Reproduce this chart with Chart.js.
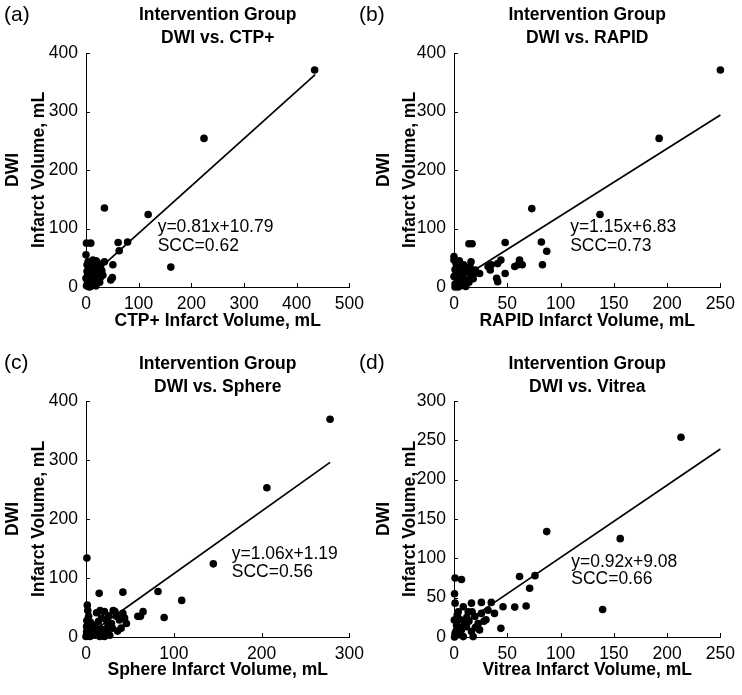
<!DOCTYPE html>
<html>
<head>
<meta charset="utf-8">
<script src="https://cdn.jsdelivr.net/npm/chart.js@4/dist/chart.umd.min.js"></script>
<style>
  body { margin: 0; background: #fff; width: 742px; height: 695px; position: relative; overflow: hidden; }
  canvas { position: absolute; }
</style>
</head>
<body>
<canvas id="ca" width="371" height="347" style="left:0;top:0"></canvas>
<canvas id="cb" width="387" height="347" style="left:355px;top:0"></canvas>
<canvas id="cc" width="371" height="348" style="left:0;top:347px"></canvas>
<canvas id="cd" width="387" height="348" style="left:355px;top:347px"></canvas>
<script>
// (a) DWI vs CTP+
var ctpX = [434, 224, 35, 118, 161, 79, 61, 63, 1, 9, 0, 4, 20, 35, 51, 50, 47, 2, 6, 10, 13, 17, 21, 24, 27, 3, 8, 12, 16, 20, 5, 1, 9, 14, 18, 23, 26, 30, 4, 11, 7, 15, 19, 2, 22, 28, 6, 0, 13, 25, 10, 3, 32, 17, 8];
var ctpY = [371, 254, 135, 124, 34, 77, 76, 62, 75, 75, 55, 43, 44, 43, 38, 16, 12, 38, 30, 42, 28, 35, 22, 30, 16, 20, 14, 8, 4, 10, 5, 2, 1, 18, 45, 40, 8, 28, 12, 22, 36, 12, 2, 27, 18, 38, 0, 15, 46, 24, 32, 8, 20, 26, 24];
var ctpFitX = [0, 435];
var ctpFitY = [10.8, 363];

// (b) DWI vs RAPID
var rapidX = [250, 192.5, 73, 137, 82, 87, 83, 48, 14, 17, 61.5, 60, 57, 64, 44, 41, 35, 32, 34, 40, 41, 48, 24, 0, 0, 16, 9, 15, 7, 13, 20, 4, 1, 2, 3, 5, 1, 6, 8, 10, 12, 4, 9, 11, 14, 2, 7, 16, 3, 13, 0, 5, 18, 20, 1, 6];
var rapidY = [371, 254, 134, 124, 77, 61, 38, 76, 74, 74, 46, 38, 35, 38, 46, 40, 38, 35, 29, 15, 9, 23, 23, 52, 46, 43, 38, 35, 26, 26, 29, 32, 30, 22, 15, 10, 5, 2, 18, 6, 12, 0, 25, 1, 8, 40, 33, 20, 8, 28, 18, 45, 14, 24, 0, 28];
var rapidFitX = [0, 250];
var rapidFitY = [6.8, 294];

// (c) DWI vs Sphere
var sphereX = [278, 206, 1, 145, 82, 42, 15, 109, 89, 65, 62, 59, 1.5, 12, 21, 33, 42, 44, 38, 46, 23, 29, 34.5, 17.6, 14, 0.7, 0.7, 6, 12, 19.5, 23, 27, 4.5, 15.7, 21, 0, 3, 8, 10, 25, 30, 5, 2, 18, 9, 26, 36, 31, 40, 11, 7, 16, 24, 1];
var sphereY = [369, 253, 134, 124, 77, 76, 74, 62, 33, 43, 35, 35, 54, 41, 43, 43, 40, 32, 29, 23, 29, 23, 35, 32, 26, 18, 9, 12, 6, 6, 12, 3, 1, 1, 1, 1, 35, 20, 3, 20, 15, 25, 45, 13, 8, 36, 10, 45, 15, 17, 4, 45, 7, 28];
var sphereFitX = [0, 278];
var sphereFitY = [1.2, 296];

// (d) DWI vs Vitrea
var vitreaX = [213, 87, 156, 139.5, 61.5, 76, 71, 1, 7, 0.5, 67.7, 57, 46, 44, 38, 35, 25.7, 16.4, 1, 8.7, 4, 0.3, 2.4, 13.3, 19.6, 25.7, 32, 22.6, 24, 16.4, 11.7, 7, 1, 18, 8.7, 0.5, 6, 3, 10, 14, 20, 28, 5, 12, 2, 9, 17, 4, 30];
var vitreaY = [254, 134, 125, 35, 77, 78, 62, 75, 73, 55, 39.5, 38, 38.5, 11, 30, 44, 44, 43, 43, 38.5, 32, 21.6, 15, 32, 26, 30, 34, 17, 9, 7, 13, 9, 4.7, 0.5, 0.5, 0, 22, 28, 18, 20, 12, 20, 3, 25, 8, 14, 32, 24, 22];
var vitreaFitX = [0, 250];
var vitreaFitY = [9.1, 239];

var xTicksA = [0, 100, 200, 300, 400, 500];
var xTicksB = [0, 50, 100, 150, 200, 250];
var xTicksC = [0, 100, 200, 300];
var yTicks400 = [0, 100, 200, 300, 400];
var yTicks300 = [0, 50, 100, 150, 200, 250, 300];

var FONT = '"Liberation Sans", Arial, Helvetica, sans-serif';
var INK = '#000';

function pts(xs, ys) {
  return xs.map(function (x, i) { return { x: x, y: ys[i] }; });
}

// inward tick marks, equation text and panel letter
var notes = {
  id: 'notes',
  afterDraw: function (chart, args, o) {
    var ctx = chart.ctx;
    var sx = chart.scales.x, sy = chart.scales.y;
    var a = chart.chartArea;
    ctx.save();
    ctx.strokeStyle = INK;
    ctx.lineWidth = 1;
    ctx.beginPath();
    o.xTicks.forEach(function (v) {
      var px = Math.round(sx.getPixelForValue(v)) + 0.5;
      ctx.moveTo(px, a.bottom); ctx.lineTo(px, a.bottom - 4);
    });
    o.yTicks.forEach(function (v) {
      var py = Math.round(sy.getPixelForValue(v)) + 0.5;
      ctx.moveTo(a.left, py); ctx.lineTo(a.left + 4, py);
    });
    ctx.stroke();
    ctx.fillStyle = INK;
    ctx.textAlign = 'left';
    ctx.textBaseline = 'middle';
    ctx.font = '17.5px ' + FONT;
    var px0 = sx.getPixelForValue(o.at[0]);
    o.lines.forEach(function (t, i) {
      ctx.fillText(t, px0, sy.getPixelForValue(o.at[i + 1]));
    });
    ctx.font = '21px ' + FONT;
    ctx.fillText(o.tag, 4, o.tagY);
    ctx.restore();
  }
};

function panel(p) {
  var tickFont = { family: FONT, size: 17.5 };
  var titleFont = { family: FONT, size: 17.5, weight: 'bold' };
  var grid = { display: false, drawTicks: false, tickLength: 0 };
  var border = { display: true, color: INK, width: 1 };
  new Chart(document.getElementById(p.id), {
    type: 'scatter',
    data: {
      datasets: [
        { data: pts(p.xs, p.ys), backgroundColor: INK, borderColor: INK, pointRadius: 3.8, pointHoverRadius: 3.8, borderWidth: 0, clip: false },
        { data: pts(p.fitX, p.fitY), showLine: true, borderColor: INK, borderWidth: 1.7, pointRadius: 0, fill: false, clip: false }
      ]
    },
    options: {
      responsive: false,
      animation: false,
      events: [],
      layout: { padding: { left: p.padL, right: p.w - p.area.r, top: 0, bottom: 0 } },
      plugins: {
        legend: { display: false },
        tooltip: { enabled: false },
        title: {
          display: true,
          fullSize: false,
          text: ['Intervention Group', p.sub],
          color: INK,
          font: { family: FONT, size: 17.5, weight: 'bold', lineHeight: 23 / 17.5 },
          padding: { top: p.titlePad[0], bottom: p.titlePad[1] }
        },
        notes: { at: p.note, lines: p.lines, tag: p.tag, tagY: p.tagY, xTicks: p.xTicks, yTicks: p.yTicks }
      },
      scales: {
        x: {
          type: 'linear', min: 0, max: p.xTicks[p.xTicks.length - 1],
          afterBuildTicks: function (s) { s.ticks = p.xTicks.map(function (v) { return { value: v }; }); },
          afterFit: function (s) { s.height = p.h - p.area.b; },
          ticks: { color: INK, font: tickFont, padding: 7, maxRotation: 0, autoSkip: false },
          grid: grid, border: border,
          title: { display: true, text: p.xTitle, color: INK, font: titleFont, padding: { top: 0, bottom: p.xTitlePad } }
        },
        y: {
          type: 'linear', min: 0, max: p.yTicks[p.yTicks.length - 1],
          afterBuildTicks: function (s) { s.ticks = p.yTicks.map(function (v) { return { value: v }; }); },
          afterFit: function (s) { s.width = p.area.l - p.padL; },
          ticks: { color: INK, font: tickFont, padding: 8, autoSkip: false },
          grid: grid, border: border,
          title: { display: true, text: ['DWI', 'Infarct Volume, mL'], color: INK, font: { family: FONT, size: 17.5, weight: 'bold', lineHeight: 26 / 17.5 }, padding: { top: 0, bottom: 0 } }
        }
      }
    },
    plugins: [notes]
  });
}

panel({ id: 'ca', w: 371, h: 347, padL: 0, area: { l: 86, r: 352.7, b: 287 }, titlePad: [4, 3],
  sub: 'DWI vs. CTP+', xTitle: 'CTP+ Infarct Volume, mL', xTitlePad: 15,
  xTicks: xTicksA, yTicks: yTicks400, xs: ctpX, ys: ctpY, fitX: ctpFitX, fitY: ctpFitY,
  note: [136, 103, 69], lines: ['y=0.81x+10.79', 'SCC=0.62'], tag: '(a)', tagY: 15 });

panel({ id: 'cb', w: 387, h: 347, padL: 16, area: { l: 99, r: 367, b: 287 }, titlePad: [4, 3],
  sub: 'DWI vs. RAPID', xTitle: 'RAPID Infarct Volume, mL', xTitlePad: 15,
  xTicks: xTicksB, yTicks: yTicks400, xs: rapidX, ys: rapidY, fitX: rapidFitX, fitY: rapidFitY,
  note: [109, 103, 69], lines: ['y=1.15x+6.83', 'SCC=0.73'], tag: '(b)', tagY: 15 });

panel({ id: 'cc', w: 371, h: 348, padL: 0, area: { l: 86, r: 353.3, b: 290 }, titlePad: [6, 2],
  sub: 'DWI vs. Sphere', xTitle: 'Sphere Infarct Volume, mL', xTitlePad: 14,
  xTicks: xTicksC, yTicks: yTicks400, xs: sphereX, ys: sphereY, fitX: sphereFitX, fitY: sphereFitY,
  note: [166, 141, 110], lines: ['y=1.06x+1.19', 'SCC=0.56'], tag: '(c)', tagY: 16 });

panel({ id: 'cd', w: 387, h: 348, padL: 16, area: { l: 99, r: 367, b: 290 }, titlePad: [6, 2],
  sub: 'DWI vs. Vitrea', xTitle: 'Vitrea Infarct Volume, mL', xTitlePad: 14,
  xTicks: xTicksB, yTicks: yTicks300, xs: vitreaX, ys: vitreaY, fitX: vitreaFitX, fitY: vitreaFitY,
  note: [110, 95, 74], lines: ['y=0.92x+9.08', 'SCC=0.66'], tag: '(d)', tagY: 16 });
</script>
</body>
</html>
